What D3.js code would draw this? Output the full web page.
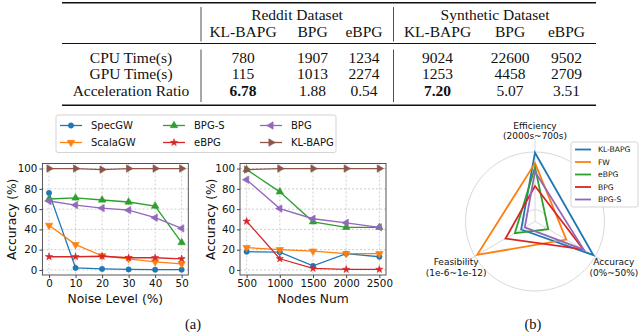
<!DOCTYPE html>
<html>
<head>
<meta charset="utf-8">
<script src="https://cdn.jsdelivr.net/npm/d3@7"></script>
<style>
body { margin: 0; background: #fff; }
svg { display: block; }
.serif { font-family: "Liberation Serif", "Times New Roman", serif; }
.sans { font-family: "DejaVu Sans", sans-serif; }
</style>
</head>
<body>
<svg id="fig" width="640" height="333"></svg>
<script>
// Table data
const groupNames = ["Reddit Dataset", "Synthetic Dataset"];
const colNames = ["KL-BAPG", "BPG", "eBPG", "KL-BAPG", "BPG", "eBPG"];
const rowNames = ["CPU Time(s)", "GPU Time(s)", "Acceleration Ratio"];
const cpuTime = [780, 1907, 1234, 9024, 22600, 9502];
const gpuTime = [115, 1013, 2274, 1253, 4458, 2709];
const accelRatio = [6.78, 1.88, 0.54, 7.20, 5.07, 3.51];

// Line charts (a)
const lineMethods = ["SpecGW", "ScalaGW", "BPG-S", "eBPG", "BPG", "KL-BAPG"];
const noiseLevels = [0, 10, 20, 30, 40, 50];
const noiseSpecGW = [76, 2, 1, 0.5, 0.3, 0.3];
const noiseScalaGW = [44, 25, 14, 11, 8, 6];
const noiseBPGS = [70, 71, 69, 67, 63, 27];
const noiseEBPG = [13, 13, 13.5, 12, 12, 11];
const noiseBPG = [68, 64, 61, 59, 51.5, 41];
const noiseKLBAPG = [100, 100, 99, 100, 100, 100];

const nodeNums = [500, 1000, 1500, 2000, 2500];
const nodesSpecGW = [18, 17.5, 4, 16, 13];
const nodesScalaGW = [22, 20, 18.5, 16, 16];
const nodesBPGS = [99, 77, 47.5, 42, 42];
const nodesEBPG = [48, 11, 1.5, 0.5, 0.5];
const nodesBPG = [89, 60.5, 50.5, 46.5, 42];
const nodesKLBAPG = [99, 100, 100, 100, 100];
const accTicks = [0, 20, 40, 60, 80, 100];

// Radar chart (b), values normalised to the outer ring
const radarAxes = [["Efficiency", "(2000s~700s)"], ["Accuracy", "(0%~50%)"], ["Feasibility", "(1e-6~1e-12)"]];
const radarMethods = ["KL-BAPG", "FW", "eBPG", "BPG", "BPG-S"];
const radarKLBAPG = [0.99, 0.97, 0.23];
const radarFW = [0.84, 0.52, 0.96];
const radarEBPG = [0.78, 0.22, 0.335];
const radarBPG = [0.51, 0.80, 0.49];
const radarBPGS = [0.715, 0.81, 0.17];

const tab10 = ["#1f77b4", "#ff7f0e", "#2ca02c", "#d62728", "#9467bd", "#8c564b"];

const svg = d3.select("#fig");

// ---------- table ----------
function drawTable() {
    const g = svg.append("g").attr("class", "serif").style("font-size", "15.5px").attr("fill", "#111");
    const colX = [243, 312.5, 364, 437.5, 510, 566.5];
    const groupX = [297, 495];
    const sepX = [201, 393.5];
    const rowY = [57.5, 74, 90.5];

    g.append("line").attr("x1", 62).attr("x2", 596).attr("y1", 2.8).attr("y2", 2.8)
        .attr("stroke", "#111").attr("stroke-width", 1.6);
    g.append("line").attr("x1", 62).attr("x2", 596).attr("y1", 43.5).attr("y2", 43.5)
        .attr("stroke", "#111").attr("stroke-width", 1);
    g.append("line").attr("x1", 62).attr("x2", 596).attr("y1", 105.3).attr("y2", 105.3)
        .attr("stroke", "#111").attr("stroke-width", 1.6);

    sepX.forEach(x => {
        g.append("line").attr("x1", x).attr("x2", x).attr("y1", 7).attr("y2", 41.5)
            .attr("stroke", "#222").attr("stroke-width", 0.8);
        g.append("line").attr("x1", x).attr("x2", x).attr("y1", 49.5).attr("y2", 102)
            .attr("stroke", "#222").attr("stroke-width", 0.8);
    });

    groupNames.forEach((name, i) => {
        g.append("text").attr("x", groupX[i]).attr("y", 15).attr("dy", "0.35em")
            .attr("text-anchor", "middle").text(name);
    });
    colNames.forEach((name, i) => {
        g.append("text").attr("x", colX[i]).attr("y", 31.5).attr("dy", "0.35em")
            .attr("text-anchor", "middle").text(name);
    });

    const rows = [cpuTime.map(String), gpuTime.map(String), accelRatio.map(v => v.toFixed(2))];
    rowNames.forEach((name, r) => {
        g.append("text").attr("x", 131).attr("y", rowY[r]).attr("dy", "0.35em")
            .attr("text-anchor", "middle").text(name);
        rows[r].forEach((val, c) => {
            // bold the best acceleration ratio of each dataset
            const grp = Math.floor(c / 3);
            const best = r === 2 && accelRatio[c] === d3.max(accelRatio.slice(grp * 3, grp * 3 + 3));
            g.append("text").attr("x", colX[c]).attr("y", rowY[r]).attr("dy", "0.35em")
                .attr("text-anchor", "middle")
                .style("font-weight", best ? "bold" : "normal")
                .text(val);
        });
    });
}

// ---------- markers ----------
const markerDefs = {
    "SpecGW": { type: d3.symbolCircle, size: 22, rot: 0 },
    "ScalaGW": { type: d3.symbolTriangle, size: 24, rot: 180 },
    "BPG-S": { type: d3.symbolTriangle, size: 24, rot: 0 },
    "eBPG": { type: d3.symbolStar, size: 16, rot: 0 },
    "BPG": { type: d3.symbolTriangle, size: 24, rot: -90 },
    "KL-BAPG": { type: d3.symbolTriangle, size: 24, rot: 90 }
};

function addMarker(sel, name, color, cx, cy) {
    const m = markerDefs[name];
    sel.append("path")
        .attr("d", d3.symbol().type(m.type).size(m.size)())
        .attr("transform", `translate(${cx},${cy}) rotate(${m.rot})`)
        .attr("fill", color)
        .attr("stroke", color)
        .attr("stroke-width", 0.6);
}

// ---------- line panel ----------
function drawPanel(opts) {
    const g = svg.append("g").attr("class", "sans");
    const x = d3.scaleLinear().domain(opts.xDomain).range([opts.left, opts.right]);
    const y = d3.scaleLinear().domain([-5, 105]).range([275, 163.5]);

    // grid
    g.append("g").selectAll("line").data(opts.xValues).join("line")
        .attr("x1", d => x(d)).attr("x2", d => x(d))
        .attr("y1", 163.5).attr("y2", 275)
        .attr("stroke", "#b8b8b8").attr("stroke-width", 0.7).attr("stroke-dasharray", "2,2");
    g.append("g").selectAll("line").data(accTicks).join("line")
        .attr("x1", opts.left).attr("x2", opts.right)
        .attr("y1", d => y(d)).attr("y2", d => y(d))
        .attr("stroke", "#b8b8b8").attr("stroke-width", 0.7).attr("stroke-dasharray", "2,2");

    // series
    const line = d3.line().x(d => x(d[0])).y(d => y(d[1]));
    opts.series.forEach((vals, i) => {
        const name = lineMethods[i];
        const pts = opts.xValues.map((xv, k) => [xv, vals[k]]);
        g.append("path").datum(pts).attr("d", line)
            .attr("fill", "none").attr("stroke", tab10[i]).attr("stroke-width", 1.3);
        const mg = g.append("g");
        pts.forEach(p => addMarker(mg, name, tab10[i], x(p[0]), y(p[1])));
    });

    // frame
    g.append("rect").attr("x", opts.left).attr("y", 163.5)
        .attr("width", opts.right - opts.left).attr("height", 275 - 163.5)
        .attr("fill", "none").attr("stroke", "#444").attr("stroke-width", 0.9);

    // axes
    const xa = g.append("g").attr("transform", "translate(0,275)")
        .call(d3.axisBottom(x).tickValues(opts.xValues).tickFormat(d3.format("d")).tickSize(3).tickPadding(2));
    const ya = g.append("g").attr("transform", `translate(${opts.left},0)`)
        .call(d3.axisLeft(y).tickValues(accTicks).tickFormat(d3.format("d")).tickSize(3).tickPadding(2));
    [xa, ya].forEach(a => {
        a.select(".domain").remove();
        a.selectAll("line").attr("stroke", "#444");
        a.selectAll("text").attr("fill", "#111").style("font-size", "10.3px")
            .style("font-family", "DejaVu Sans, sans-serif");
    });

    g.append("text").attr("x", (opts.left + opts.right) / 2).attr("y", 299).attr("dy", "0.35em")
        .attr("text-anchor", "middle").style("font-size", "12.3px").attr("fill", "#111")
        .text(opts.xLabel);
    g.append("text")
        .attr("transform", `translate(${opts.yLabelX},${(163.5 + 275) / 2}) rotate(-90)`)
        .attr("dy", "0.35em").attr("text-anchor", "middle")
        .style("font-size", "12.3px").attr("fill", "#111")
        .text("Accuracy (%)");
}

function drawLineLegend() {
    const g = svg.append("g").attr("class", "sans");
    g.append("rect").attr("x", 56).attr("y", 115).attr("width", 280).attr("height", 37.5)
        .attr("rx", 2).attr("fill", "#fff").attr("stroke", "#d0d0d0").attr("stroke-width", 0.9);
    const colX = [60, 163, 260];
    const rowY = [125.5, 142.5];
    lineMethods.forEach((name, i) => {
        const cx = colX[Math.floor(i / 2)];
        const cy = rowY[i % 2];
        g.append("line").attr("x1", cx).attr("x2", cx + 22).attr("y1", cy).attr("y2", cy)
            .attr("stroke", tab10[i]).attr("stroke-width", 1.3);
        addMarker(g, name, tab10[i], cx + 11, cy);
        g.append("text").attr("x", cx + 31).attr("y", cy).attr("dy", "0.35em")
            .style("font-size", "10px").attr("fill", "#111").text(name);
    });
}

// ---------- radar ----------
function drawRadar() {
    const g = svg.append("g").attr("class", "sans").attr("transform", "translate(535,221.5)");
    const r = d3.scaleLinear().domain([0, 1]).range([0, 69.5]);
    const angle = i => i * 2 * Math.PI / radarAxes.length;

    [0.17, 1].forEach(v => {
        g.append("circle").attr("r", r(v)).attr("fill", "none")
            .attr("stroke", "#d4d4d4").attr("stroke-width", 0.9);
    });
    radarAxes.forEach((ax, i) => {
        const a = angle(i);
        g.append("line").attr("x1", 0).attr("y1", 0)
            .attr("x2", Math.sin(a) * r(1.19)).attr("y2", -Math.cos(a) * r(1.19))
            .attr("stroke", "#d4d4d4").attr("stroke-width", 0.9);
        const lx = Math.sin(a) * r(1.31), ly = -Math.cos(a) * r(1.31);
        const t = g.append("text").attr("text-anchor", "middle").style("font-size", "9px").attr("fill", "#111");
        t.append("tspan").attr("x", lx).attr("y", ly - 5).attr("dy", "0.35em").text(ax[0]);
        t.append("tspan").attr("x", lx).attr("y", ly + 5.5).attr("dy", "0.35em").text(ax[1]);
    });

    const series = [radarKLBAPG, radarFW, radarEBPG, radarBPG, radarBPGS];
    const radial = d3.lineRadial().angle((d, i) => angle(i)).radius(d => r(d)).curve(d3.curveLinearClosed);
    series.forEach((vals, i) => {
        g.append("path").datum(vals).attr("d", radial)
            .attr("fill", "none").attr("stroke", tab10[i]).attr("stroke-width", 1.8)
            .attr("stroke-linejoin", "miter");
    });

    // legend
    const lg = svg.append("g").attr("class", "sans");
    lg.append("rect").attr("x", 571).attr("y", 142).attr("width", 67).attr("height", 65)
        .attr("rx", 2).attr("fill", "#fff").attr("fill-opacity", 0.85)
        .attr("stroke", "#d0d0d0").attr("stroke-width", 0.9);
    radarMethods.forEach((name, i) => {
        const cy = 149.5 + i * 12.5;
        lg.append("line").attr("x1", 575).attr("x2", 591).attr("y1", cy).attr("y2", cy)
            .attr("stroke", tab10[i]).attr("stroke-width", 1.8);
        lg.append("text").attr("x", 598).attr("y", cy).attr("dy", "0.35em")
            .style("font-size", "7.6px").attr("fill", "#111").text(name);
    });
}

drawTable();
drawPanel({
    left: 42.4, right: 188.3, xDomain: [-2.5, 52.5], xValues: noiseLevels,
    series: [noiseSpecGW, noiseScalaGW, noiseBPGS, noiseEBPG, noiseBPG, noiseKLBAPG],
    xLabel: "Noise Level (%)", yLabelX: 12
});
drawPanel({
    left: 240, right: 386, xDomain: [400, 2600], xValues: nodeNums,
    series: [nodesSpecGW, nodesScalaGW, nodesBPGS, nodesEBPG, nodesBPG, nodesKLBAPG],
    xLabel: "Nodes Num", yLabelX: 211
});
drawLineLegend();
drawRadar();

svg.append("text").attr("class", "serif").attr("x", 193).attr("y", 323.5).attr("dy", "0.35em")
    .attr("text-anchor", "middle").style("font-size", "14.5px").attr("fill", "#111").text("(a)");
svg.append("text").attr("class", "serif").attr("x", 533).attr("y", 323.5).attr("dy", "0.35em")
    .attr("text-anchor", "middle").style("font-size", "14.5px").attr("fill", "#111").text("(b)");
</script>
</body>
</html>
